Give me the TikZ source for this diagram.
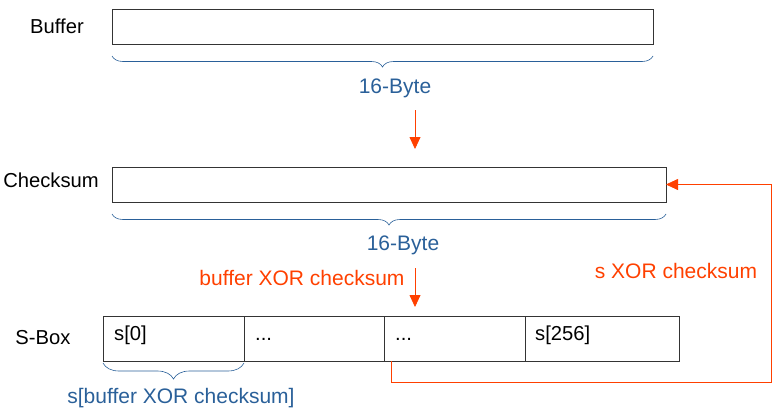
\documentclass[tikz,border=0pt]{standalone}
\usepackage{fontspec}
\setmainfont{Liberation Sans}
\usetikzlibrary{positioning,calc,arrows.meta,decorations.pathreplacing}
\definecolor{xorred}{RGB}{255,64,0}
\definecolor{bytblue}{RGB}{42,96,153}
\definecolor{boxgray}{RGB}{52,52,52}

\begin{document}
\begin{tikzpicture}[x=1pt,y=-1pt,font=\fontsize{20.2}{24}\selectfont,
      >={Triangle[width=11pt,length=12pt]},
      reg/.style={draw=boxgray,line width=0.9pt,minimum height=35pt,inner sep=0pt,outer sep=0pt,anchor=north west},
      cell/.style={draw=boxgray,line width=0.9pt,minimum height=45pt,inner sep=0pt,outer sep=0pt,anchor=north west},
      txt/.style={anchor=base west,inner sep=0pt},
      brc/.style={draw=bytblue,line width=0.6pt,decorate,decoration={brace,mirror,amplitude=11pt}},
      lbl/.style={text=bytblue,font=\fontsize{21}{25}\selectfont},
      xor/.style={draw=xorred,line width=0.8pt},
      xortxt/.style={text=xorred,font=\fontsize{21}{25}\selectfont}]
    \useasboundingbox (0,0) rectangle (779,415);
    % registers
    \node at (57,26) (lbuf) {Buffer};
    \node[reg,minimum width=541pt] (buf) at (112,9) {};
    \node at (51,180) (lchk) {Checksum};
    \node[reg,minimum width=554pt] (chk) at (112,167) {};
    % s-box cells
    \node at (43,338) (lsb) {S-Box};
    \node[cell,minimum width=141pt] (c1) at (103,316) {};
    \node[cell,minimum width=140pt] (c2) at (c1.north east) {};
    \node[cell,minimum width=141pt] (c3) at (c2.north east) {};
    \node[cell,minimum width=154pt] (c4) at (c3.north east) {};
    \node[txt] (t1) at ($(c1.north west)+(11,24)$) {s[0]};
    \node[txt] (t2) at ($(c2.north west)+(11,24)$) {...};
    \node[txt] (t3) at ($(c3.north west)+(11,24)$) {...};
    \node[txt] (t4) at ($(c4.north west)+(10,24)$) {s[256]};
    % braces
    \draw[brc] ($(buf.south west)+(0,12)$) -- ($(buf.south east)+(0,12)$);
    \node[lbl] (b1) at (395,88) {16-Byte};
    \draw[brc] ($(chk.south west)+(0,12)$) -- ($(chk.south east)+(0,12)$);
    \node[lbl] (b2) at (403,245) {16-Byte};
    \draw[brc,decoration={amplitude=16pt}] ($(c1.south west)+(0,2)$) -- ($(c1.south east)+(0,2)$);
    \node[lbl] (b3) at (181,398) {s[buffer XOR checksum]};
    % xor arrows
    \coordinate (a1) at (415,110);
    \coordinate (a2) at (415,149);
    \draw[xor,->] (a1) -- (a2);
    \node[xortxt] (x1) at (302,278) {buffer XOR checksum};
    \coordinate (a3) at (415,268);
    \coordinate (a4) at (415,307);
    \draw[xor,->] (a3) -- (a4);
    \node[xortxt] (x2) at (676,271) {s XOR checksum};
    \coordinate (fb) at ($(c3.south west)+(7,0)$);
    \coordinate (fbr) at (771,382);
    \draw[xor,->] (fb) |- (fbr) |- (chk.east);
\end{tikzpicture}
\end{document}
